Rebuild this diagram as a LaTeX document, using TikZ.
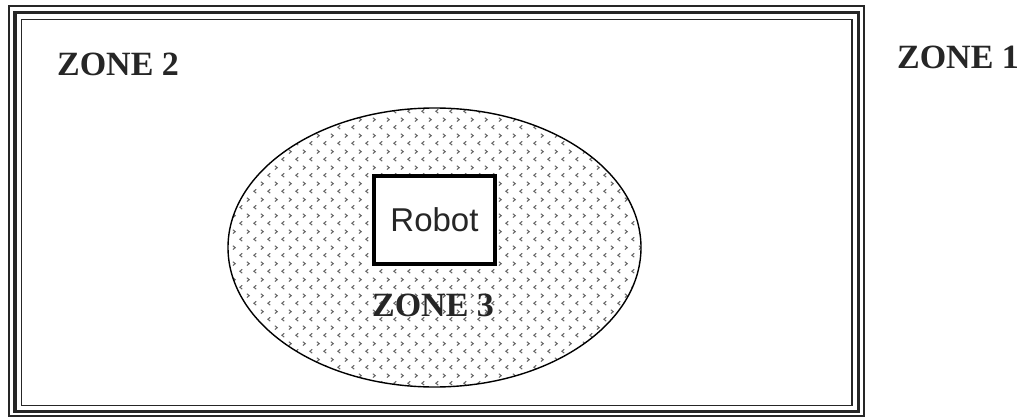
\documentclass[tikz,border=0pt]{standalone}
\usepackage{fontspec}
\setmainfont{Liberation Serif}
\newfontfamily\robotfont{Liberation Sans}
\usetikzlibrary{patterns}
\pgfdeclarepatternformonly{chevrons}{\pgfqpoint{0pt}{0pt}}{\pgfqpoint{14pt}{16pt}}{\pgfqpoint{14pt}{16pt}}{%
  \pgfsetlinewidth{1.1pt}
  \pgfpathmoveto{\pgfqpoint{4.5pt}{2pt}}\pgfpathlineto{\pgfqpoint{2pt}{4pt}}\pgfpathlineto{\pgfqpoint{4.5pt}{6pt}}
  \pgfpathmoveto{\pgfqpoint{9.5pt}{10pt}}\pgfpathlineto{\pgfqpoint{12pt}{12pt}}\pgfpathlineto{\pgfqpoint{9.5pt}{14pt}}
  \pgfusepath{stroke}}
\tikzset{
  zonelabel/.style={font=\fontsize{34}{40}\selectfont\bfseries, inner sep=0pt, text=black!85},
  robotbox/.style={draw, line width=4pt, fill=white, minimum width=121pt, minimum height=88pt, inner sep=0pt, font=\robotfont\fontsize{33}{38}\selectfont, text=black!85},
  zoneellipse/.style={draw, line width=1.4pt, pattern=chevrons, pattern color=black!60}
}
\begin{document}
\begin{tikzpicture}[x=1pt,y=-1pt]
\useasboundingbox[fill=white] (0,0) rectangle (1031,418);
% triple frame
\draw[line width=2pt, black!85] (8.5,5.5) rectangle (864,416);
\draw[line width=3.5pt, black!85] (15,12.5) rectangle (858.5,411.5);
\draw[line width=1.5pt, black!85] (21.5,19.5) rectangle (852,405.5);
% zone 3 ellipse
\path[zoneellipse] (434.5,247.5) ellipse [x radius=206.5pt, y radius=139.5pt];
\node[robotbox] (robot) at (434.5,220) {Robot};
\node[zonelabel] (z3) at (433,305) {ZONE 3};
\node[zonelabel] (z2) at (118,64) {ZONE 2};
\node[zonelabel] (z1) at (958,57) {ZONE 1};
\end{tikzpicture}
\end{document}
